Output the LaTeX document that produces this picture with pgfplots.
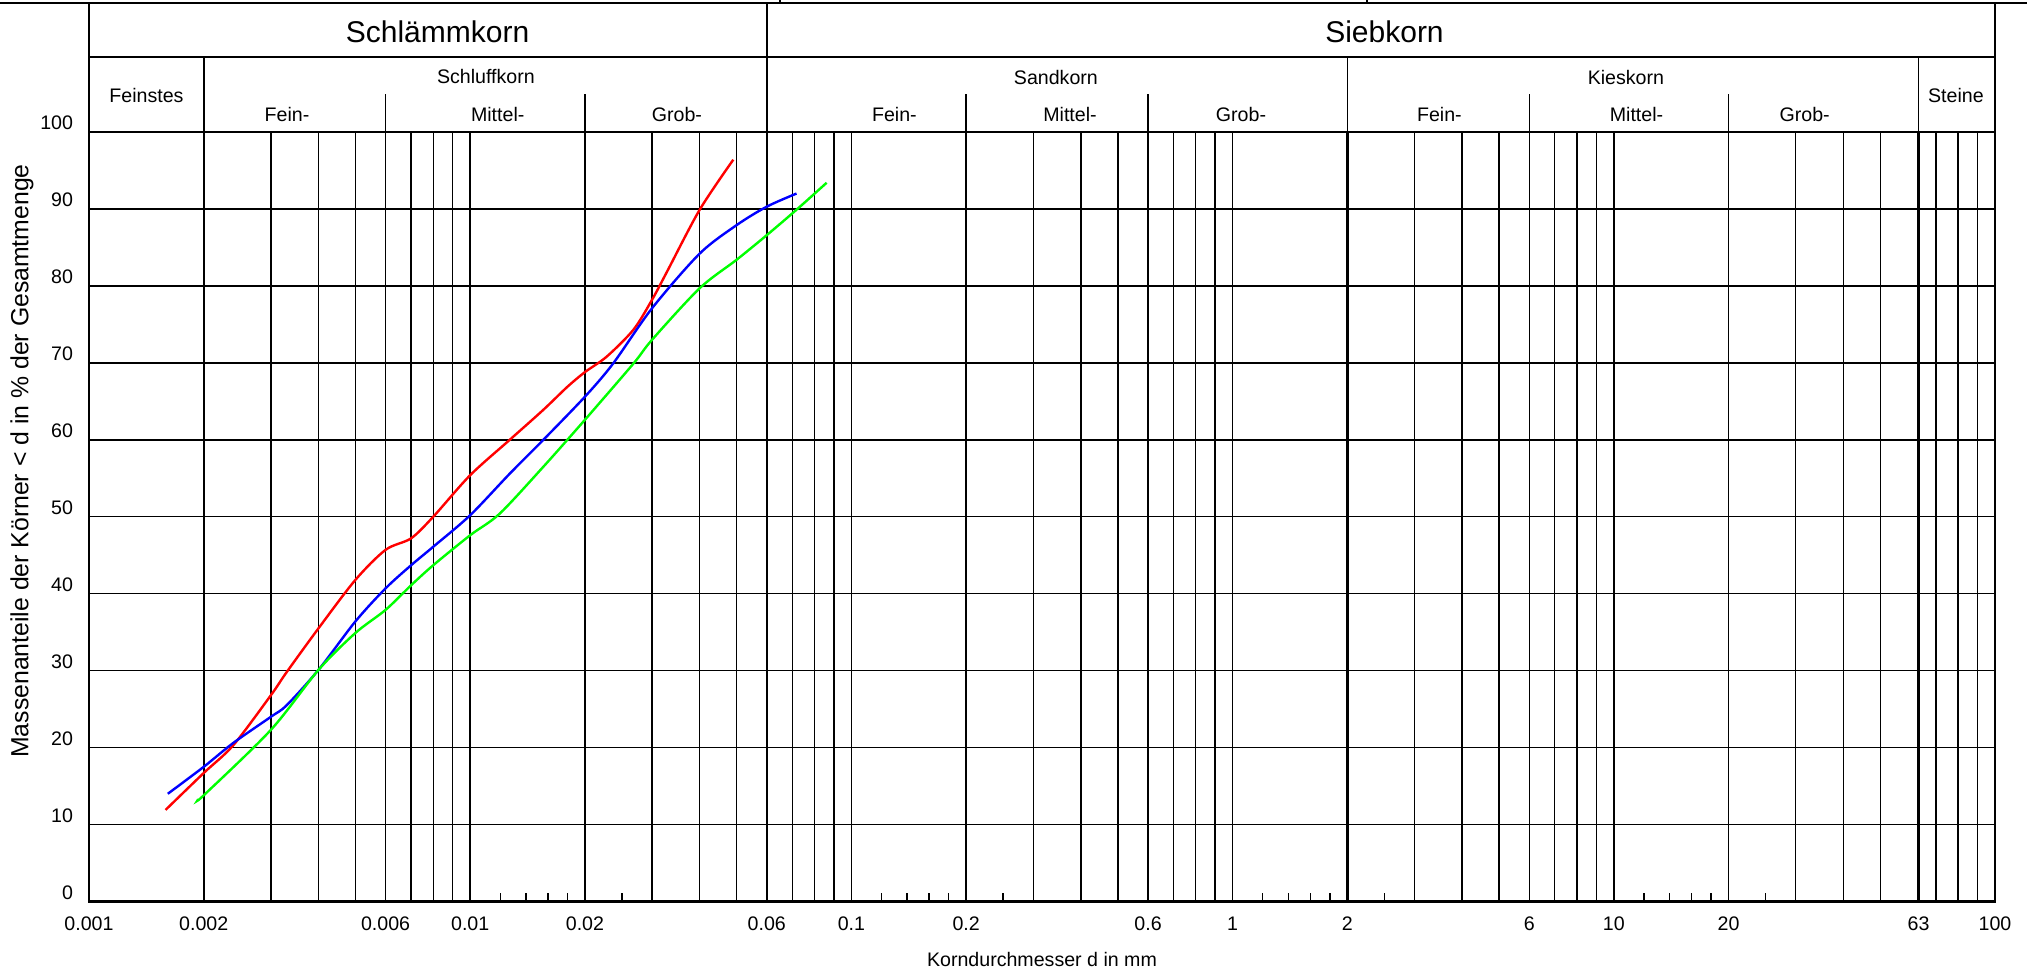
\documentclass[border=0pt]{standalone}
\usepackage{fontspec}
\setmainfont{Liberation Sans}
\usepackage{pgfplots}
\pgfplotsset{compat=1.18}
\newcommand{\sm}{\fontsize{9.8}{11.8}\selectfont}
\begin{document}
\begin{tikzpicture}
\sm
\begin{axis}[
  at={(0,0)}, anchor=south west, scale only axis,
  width=953pt, height=384.75pt,
  xmode=log, xmin=0.001, xmax=100, ymin=0, ymax=100,
  clip=false,
  xtick={0.001,0.002,0.006,0.01,0.02,0.06,0.1,0.2,0.6,1,2,6,10,20,63,100},
  xticklabels={0.001,0.002,0.006,0.01,0.02,0.06,0.1,0.2,0.6,1,2,6,10,20,63,100},
  minor xtick={0.003,0.004,0.005,0.007,0.008,0.009,0.03,0.04,0.05,0.07,0.08,0.09,0.3,0.4,0.5,0.7,0.8,0.9,3,4,5,7,8,9,30,40,50,70,80,90},
  ytick={0,10,...,100},
  grid=both,
  major grid style={black, line width=0.7pt},
  minor grid style={black, line width=0.7pt},
  major tick length=0pt, minor tick length=0pt,
  xtick pos=bottom, ytick pos=left,
  extra x ticks={0.012,0.014,0.016,0.018,0.025,0.12,0.14,0.16,0.18,0.25,1.2,1.4,1.6,1.8,2.5,12,14,16,18,25},
  extra x tick labels={},
  extra x tick style={grid=none, major tick length=4.5pt, tick style={black, line width=0.7pt}},
  axis line style={black, line width=1.3pt},
  /pgf/number format/assume math mode=true,
  tick label style={font=\sm},
  xticklabel style={yshift=-4.4pt},
  yticklabel style={anchor=base east, xshift=-4.5pt, yshift=1pt},
  xlabel={Korndurchmesser d in mm},
  xlabel style={font=\sm, at={(rel axis cs:0.5,0)}, anchor=base, yshift=-32.25pt},
]
% thick class boundaries
\pgfplotsinvokeforeach{0.002,0.06,2,63}{
  \draw[line width=1.2pt] (axis cs:#1,0) -- (axis cs:#1,100);
  \draw[line width=0.8pt] (axis cs:#1,100) -- (axis cs:#1,109.75);
}
% header
\draw[line width=1pt] (axis cs:0.0005,116.77) -- (axis cs:130,116.77);
\draw[line width=1pt] (axis cs:0.001,100) -- (axis cs:0.001,116.77);
\draw[line width=1pt] (axis cs:100,100) -- (axis cs:100,116.77);
\draw[line width=0.8pt] (axis cs:0.001,109.75) -- (axis cs:100,109.75);
\draw[line width=0.8pt] (axis cs:0.06,109.75) -- (axis cs:0.06,116.77);
\draw[line width=0.8pt] (axis cs:0.065,116.77) -- (axis cs:0.065,118.5);
\draw[line width=0.8pt] (axis cs:2.252,116.77) -- (axis cs:2.252,118.5);
\pgfplotsinvokeforeach{0.006,0.02,0.2,0.6,6,20}{
  \draw[line width=0.7pt] (axis cs:#1,100) -- (axis cs:#1,104.94);
}
\node[anchor=base, font=\fontsize{15}{18}\selectfont] at (axis cs:0.008212,111.6) {Schlämmkorn};
\node[anchor=base, font=\fontsize{15}{18}\selectfont] at (axis cs:2.503,111.6) {Siebkorn};
\node[anchor=base, font=\sm] at (axis cs:0.001415,103.86) {Feinstes};
\node[anchor=base, font=\sm] at (axis cs:79.0,103.86) {Steine};
\node[anchor=base, font=\sm] at (axis cs:0.011,106.24) {Schluffkorn};
\node[anchor=base, font=\sm] at (axis cs:0.344,106.2) {Sandkorn};
\node[anchor=base, font=\sm] at (axis cs:10.76,106.2) {Kieskorn};
\node[anchor=base, font=\sm] at (axis cs:0.003307,101.4) {Fein-};
\node[anchor=base, font=\sm] at (axis cs:0.01181,101.4) {Mittel-};
\node[anchor=base, font=\sm] at (axis cs:0.03487,101.4) {Grob-};
\node[anchor=base, font=\sm] at (axis cs:0.1297,101.4) {Fein-};
\node[anchor=base, font=\sm] at (axis cs:0.3746,101.4) {Mittel-};
\node[anchor=base, font=\sm] at (axis cs:1.052,101.4) {Grob-};
\node[anchor=base, font=\sm] at (axis cs:3.488,101.4) {Fein-};
\node[anchor=base, font=\sm] at (axis cs:11.47,101.4) {Mittel-};
\node[anchor=base, font=\sm] at (axis cs:31.68,101.4) {Grob-};
\node[rotate=90, font=\fontsize{12.4}{14}\selectfont] at (axis cs:0.0006672,57.25) {Massenanteile der Körner < d in \% der Gesamtmenge};
% curves
\addplot[red, line width=1.2pt, smooth, tension=0.5] coordinates {
(0.001588,11.9) (0.002,16.7) (0.00239,20.3) (0.003,26.8) (0.0033,29.8)
(0.004,35.5) (0.005,41.8) (0.006,45.7) (0.007,47.2) (0.008,50.0)
(0.01,55.4) (0.0127,60.0) (0.01556,63.9) (0.018,66.9) (0.02,68.8)
(0.0228,70.8) (0.0268,74.3) (0.03,78.2) (0.0328,81.8) (0.04,89.9) (0.049,96.4)};
\addplot[blue, line width=1.2pt, smooth, tension=0.5] coordinates {
(0.00161,14.0) (0.002,17.5) (0.00239,20.6) (0.003,24.0) (0.0033,25.5)
(0.004,30.1) (0.005,36.4) (0.006,40.7) (0.007,43.7) (0.008,46.1)
(0.01,50.2) (0.0127,55.6) (0.01556,60.0) (0.02,65.6) (0.0237,69.9)
(0.03,77.1) (0.04,84.2) (0.05,87.9) (0.06,90.3) (0.0718,92.0)};
\addplot[green, line width=1.2pt, smooth, tension=0.5] coordinates {
(0.001935,13.3) (0.002,13.8) (0.003,22.3) (0.004,30.1) (0.005,34.9)
(0.006,37.9) (0.007,41.1) (0.008,43.7) (0.01,47.6) (0.01195,50.4)
(0.01556,56.5) (0.02,62.6) (0.0268,69.9) (0.03,73.0) (0.04,79.7)
(0.05,83.4) (0.06,86.6) (0.0718,89.9) (0.0861,93.4)};
\end{axis}
\pgfresetboundingbox
\useasboundingbox (-44.5pt,-34.25pt) rectangle (969pt,450.75pt);
\end{tikzpicture}
\end{document}
